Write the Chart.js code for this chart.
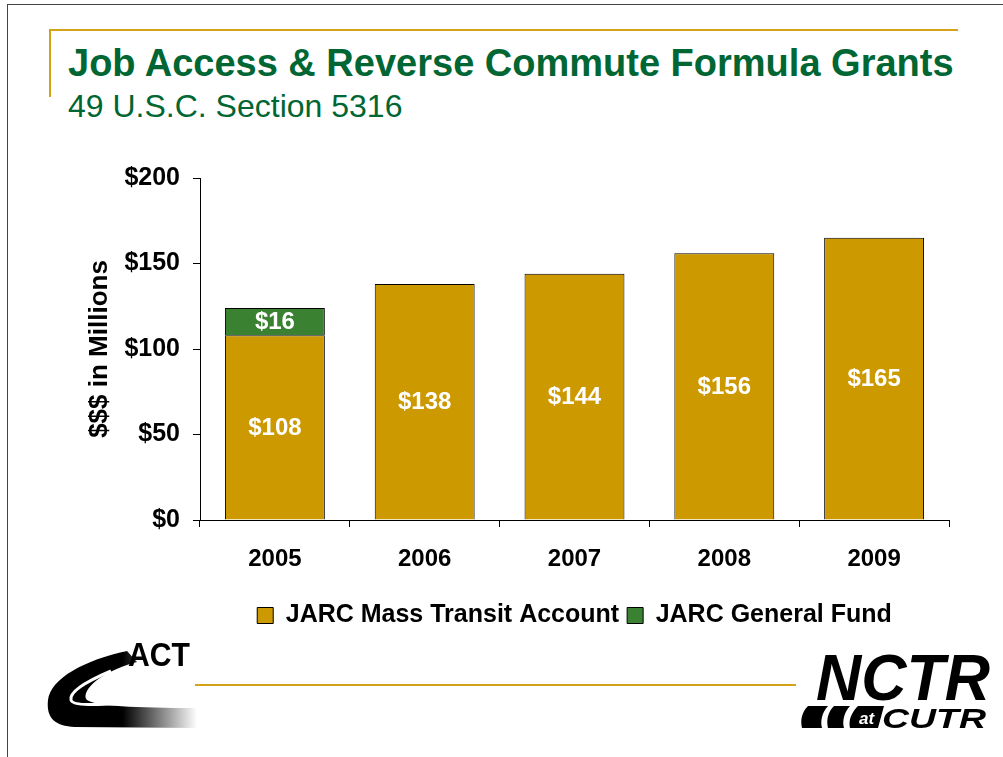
<!DOCTYPE html>
<html>
<head>
<meta charset="utf-8">
<script src="https://cdn.jsdelivr.net/npm/chart.js@4"></script>
<style>
  html, body { margin: 0; padding: 0; background: #fff; }
  #slide { position: relative; width: 1003px; height: 757px; overflow: hidden; font-family: "Liberation Sans", Arial, sans-serif; }
  .frame-top { position: absolute; left: 7px; top: 4px; width: 996px; height: 1px; background: #444; }
  .frame-left { position: absolute; left: 7px; top: 4px; width: 1px; height: 753px; background: #444; }
  .gold-top { position: absolute; left: 49px; top: 29px; width: 909px; height: 2px; background: #d4a31a; }
  .gold-side { position: absolute; left: 49px; top: 29px; width: 2px; height: 68px; background: #d4a31a; }
  .gold-bottom { position: absolute; left: 195px; top: 684px; width: 601px; height: 2px; background: #d4a31a; }
  h1 { position: absolute; left: 68px; top: 42px; margin: 0; font-size: 38px; font-weight: bold; color: #006633; white-space: nowrap; }
  h2 { position: absolute; left: 68px; top: 88px; margin: 0; font-size: 32px; font-weight: normal; color: #006633; white-space: nowrap; }
  #chart { position: absolute; left: 0; top: 0; }
  .logo { position: absolute; }
</style>
</head>
<body>
<div id="slide">
  <div class="frame-top"></div>
  <div class="frame-left"></div>
  <div class="gold-top"></div>
  <div class="gold-side"></div>
  <h1>Job Access &amp; Reverse Commute Formula Grants</h1>
  <h2>49 U.S.C. Section 5316</h2>
  <canvas id="chart" width="1003" height="757"></canvas>
  <div class="gold-bottom"></div>

  <!-- ACT logo -->
  <svg class="logo" style="left:45px;top:638px" width="152" height="92" viewBox="0 0 152 92">
    <defs>
      <linearGradient id="fade" x1="0" y1="0" x2="1" y2="0">
        <stop offset="0" stop-color="#000"/>
        <stop offset="0.5" stop-color="#000"/>
        <stop offset="1" stop-color="#fff"/>
      </linearGradient>
    </defs>
    <path d="M82 13 C40 22 6 40 3 62 C1 80 10 88 30 89 L152 90 L152 70 C90 70 50 68 42 62 C36 56 48 36 92 24 Z" fill="url(#fade)"/>
    <path d="M66 33 C40 44 24 54 26 62 C28 70 60 66 150 62" fill="none" stroke="#fff" stroke-width="3"/>
    <text x="83" y="28" font-family="Liberation Sans, Arial" font-weight="bold" font-size="34" textLength="62" lengthAdjust="spacingAndGlyphs" fill="#000">ACT</text>
  </svg>

  <!-- NCTR at CUTR logo -->
  <svg class="logo" style="left:800px;top:648px" width="195" height="84" viewBox="0 0 195 84">
    <text x="16" y="52" font-family="Liberation Sans, Arial" font-weight="bold" font-style="italic" font-size="64" textLength="174" lengthAdjust="spacingAndGlyphs" fill="#000">NCTR</text>
    <path d="M8 58 L28 58 C22 64 20 74 22 80 L2 80 C0 72 2 64 8 58 Z" fill="#000"/>
    <path d="M34 58 L50 58 C44 64 42 74 44 80 L28 80 C26 72 28 64 34 58 Z" fill="#000"/>
    <path d="M58 58 L84 58 L78 80 L50 80 C48 72 52 64 58 58 Z" fill="#000"/>
    <text x="59" y="76" font-family="Liberation Sans, Arial" font-weight="bold" font-style="italic" font-size="17" fill="#fff">at</text>
    <text x="82" y="80" font-family="Liberation Sans, Arial" font-weight="bold" font-style="italic" font-size="28" textLength="104" lengthAdjust="spacingAndGlyphs" fill="#000">CUTR</text>
  </svg>
</div>

<script>
// grant amounts in $ millions
const years = ['2005', '2006', '2007', '2008', '2009'];
const massTransit = [108, 138, 144, 156, 165];
const generalFund = [16, null, null, null, null];
const yTicks = [0, 50, 100, 150, 200];

const gold = '#cc9900';
const green = '#3a8232';
const font = 'Liberation Sans, Arial, sans-serif';

// white value labels centred in each bar segment
const barValues = {
  id: 'barValues',
  afterDatasetsDraw(chart) {
    const ctx = chart.ctx;
    ctx.save();
    ctx.fillStyle = '#fff';
    ctx.font = 'bold 24px ' + font;
    ctx.textAlign = 'center';
    ctx.textBaseline = 'middle';
    chart.data.datasets.forEach((ds, i) => {
      chart.getDatasetMeta(i).data.forEach((bar, j) => {
        const v = ds.data[j];
        if (v == null) return;
        ctx.fillText('$' + v, bar.x, (bar.y + bar.base) / 2 + 1);
      });
    });
    ctx.restore();
  }
};

// centre the legend under the plot area rather than the whole canvas
const legendUnderPlot = {
  id: 'legendUnderPlot',
  afterLayout(chart) {
    const lg = chart.legend;
    const shift = (chart.chartArea.left + chart.chartArea.right) / 2 - (lg.left + lg.right) / 2;
    lg.left += shift;
    lg.right += shift;
  }
};

new Chart(document.getElementById('chart'), {
  type: 'bar',
  data: {
    labels: years,
    datasets: [
      {
        label: 'JARC Mass Transit Account',
        data: massTransit,
        backgroundColor: gold,
        borderColor: '#000',
        borderWidth: 1,
        categoryPercentage: 1,
        barPercentage: 0.667
      },
      {
        label: 'JARC General Fund',
        data: generalFund,
        backgroundColor: green,
        borderColor: '#000',
        borderWidth: 1,
        categoryPercentage: 1,
        barPercentage: 0.667
      }
    ]
  },
  options: {
    responsive: false,
    animation: false,
    layout: { padding: { left: 80, top: 178, right: 54, bottom: 119 } },
    plugins: {
      tooltip: { enabled: false },
      legend: {
        position: 'bottom',
        labels: {
          boxWidth: 16,
          boxHeight: 16,
          padding: 8,
          color: '#000',
          font: { family: font, size: 25, weight: 'bold' }
        }
      }
    },
    scales: {
      x: {
        stacked: true,
        grid: { offset: true, drawOnChartArea: false, tickLength: 7, color: '#000' },
        border: { color: '#000', width: 1 },
        ticks: { color: '#000', padding: 18, font: { family: font, size: 24, weight: 'bold' } },
        afterFit(scale) { scale.height = 75; }
      },
      y: {
        stacked: true,
        min: 0,
        max: 200,
        afterBuildTicks(scale) { scale.ticks = yTicks.map(v => ({ value: v })); },
        grid: { drawOnChartArea: false, tickLength: 7, color: '#000' },
        border: { color: '#000', width: 1 },
        ticks: {
          color: '#000',
          padding: 13,
          font: { family: font, size: 25, weight: 'bold' },
          callback: v => '$' + v
        },
        title: {
          display: true,
          text: '$$$ in Millions',
          color: '#000',
          padding: 4,
          font: { family: font, size: 26, weight: 'bold' }
        },
        afterFit(scale) { scale.width = 120; }
      }
    }
  },
  plugins: [barValues, legendUnderPlot]
});
</script>
</body>
</html>
